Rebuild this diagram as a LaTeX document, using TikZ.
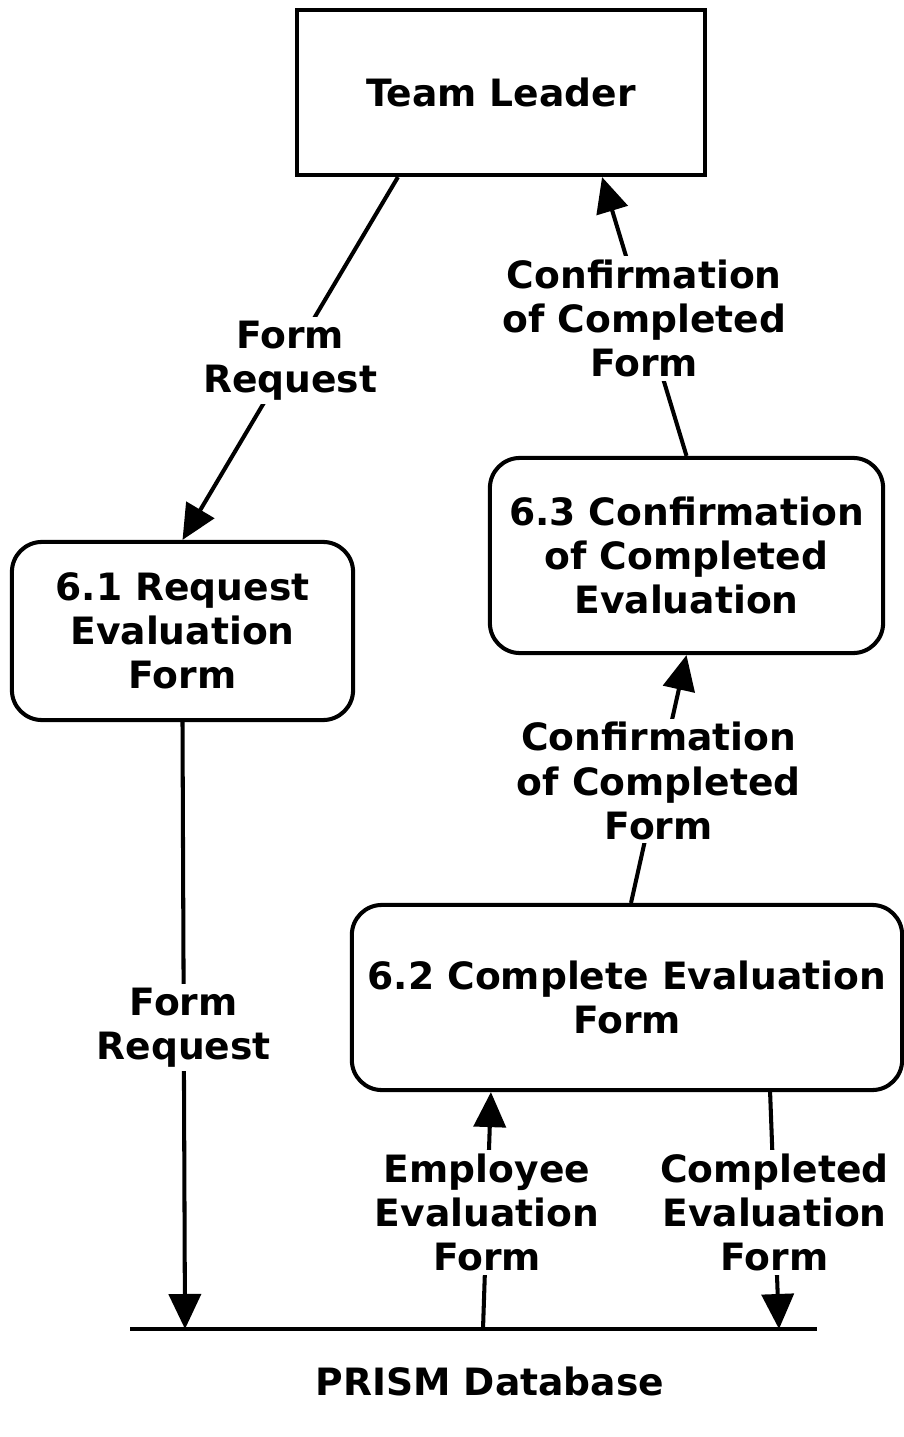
\documentclass[tikz,border=0pt]{standalone}
\usepackage{fontspec}
\setmainfont{DejaVu Sans}
\usetikzlibrary{arrows.meta}
\tikzset{
procbox/.style={
  rectangle,
  rounded corners=0.3cm,
  line width=1.15pt,
  draw=black,
  align=center,
  }
}
\tikzset{
extbox/.style={
  rectangle,
  line width=1.15pt,
  draw=black,
  align=center,
  }
}
\tikzset{
flowline/.style={
  line width=1.15pt,
  -{Triangle[length=3.5mm,width=3.2mm]}
  }
}
\tikzset{
flowlabel/.style={
  fill=white,
  inner sep=1pt,
  align=center,
  yshift=-0.02cm,
  }
}

\begin{document}
\begin{tikzpicture}[x=0.01cm,y=-0.01cm,font=\fontsize{10.7}{12.55}\selectfont\bfseries]
    \useasboundingbox (0,0) rectangle (904,1437);
    % external entity and processes
    \node[extbox, minimum width=4.08cm, minimum height=1.65cm] (tl) at (501,92.5) {Team Leader};
    \node[procbox, minimum width=3.41cm, minimum height=1.78cm] (p61) at (182.5,631) {6.1 Request\\Evaluation\\Form};
    \node[procbox, minimum width=3.93cm, minimum height=1.95cm] (p63) at (686.5,555.5) {6.3 Confirmation\\of Completed\\Evaluation};
    \node[procbox, minimum width=5.50cm, minimum height=1.85cm] (p62) at (627,997.5) {6.2 Complete Evaluation\\Form};

    % data store
    \coordinate (dbw) at (130,1329);
    \coordinate (dbe) at (817,1329);
    \draw[line width=1.15pt] (dbw) -- (dbe);
    \node (dblabel) at (490,1381) {PRISM Database};
    \coordinate (db-a) at (185,1329);
    \coordinate (db-b) at (483,1329);
    \coordinate (db-c) at (779,1329);

    % data flows
    \draw[flowline] ([xshift=-1.03cm]tl.south) -- node[flowlabel] {Form\\Request} (p61.north);
    \draw[flowline] (p63.north) -- node[flowlabel] {Confirmation\\of Completed\\Form} ([xshift=1.01cm]tl.south);
    \draw[flowline] ([xshift=0.04cm]p62.north) -- node[flowlabel] {Confirmation\\of Completed\\Form} (p63.south);
    \draw[flowline] (p61.south) -- node[flowlabel] {Form\\Request} (db-a);
    \draw[flowline] (db-b) -- node[flowlabel] {Employee\\Evaluation\\Form} ([xshift=-1.36cm]p62.south);
    \draw[flowline] ([xshift=1.43cm]p62.south) -- node[flowlabel] {Completed\\Evaluation\\Form} (db-c);
\end{tikzpicture}
\end{document}
